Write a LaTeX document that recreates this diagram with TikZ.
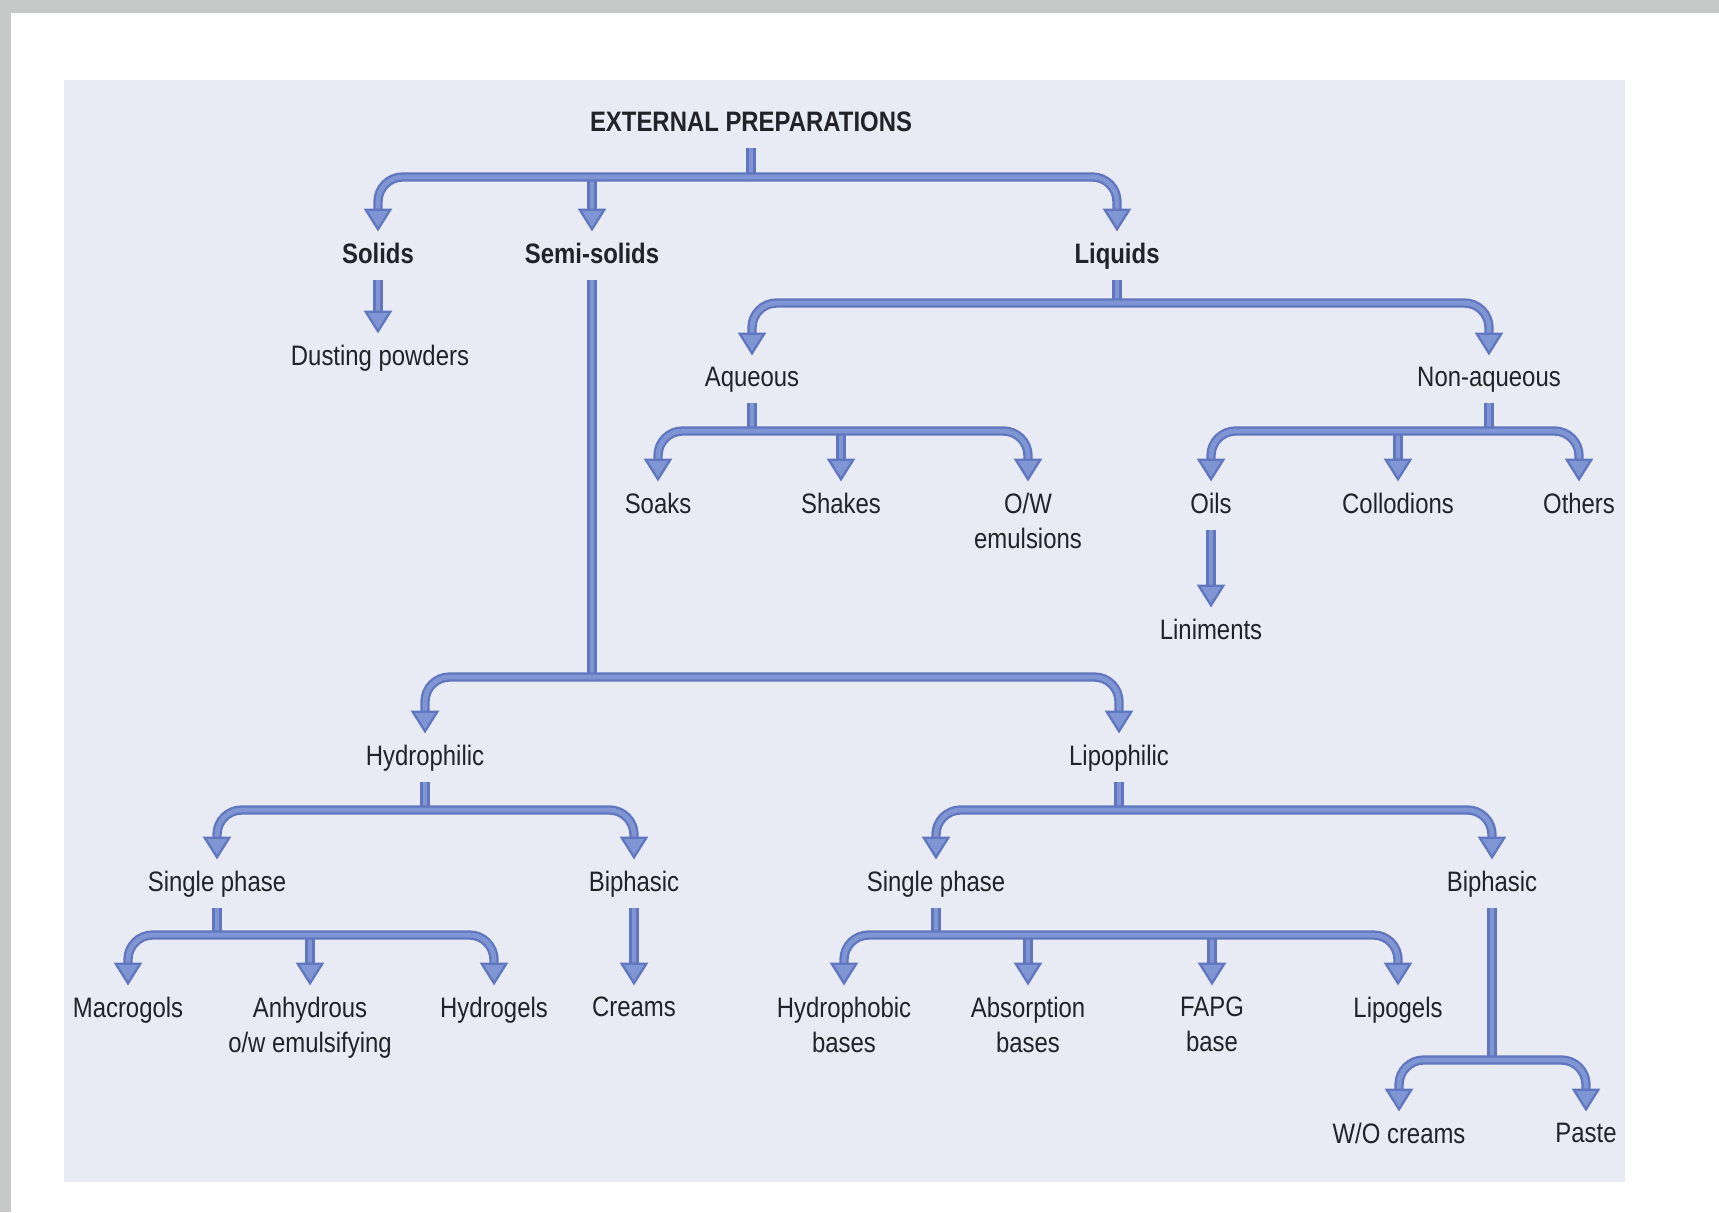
\documentclass[tikz,border=0pt]{standalone}
\usepackage{fontspec}
\setmainfont{Liberation Sans}[FakeStretch=0.85]
\usetikzlibrary{arrows.meta,positioning,calc}
\definecolor{panelbg}{RGB}{232,234,244}
\definecolor{framegray}{RGB}{199,201,200}
\definecolor{linkblue}{RGB}{128,150,212}
\definecolor{linkedge}{RGB}{96,118,190}
\definecolor{txtgray}{RGB}{34,34,40}

\begin{document}
\begin{tikzpicture}[x=0.01cm, y=-0.01cm,
    lbl/.style={font=\fontsize{8pt}{10pt}\selectfont, text=txtgray, inner sep=0pt, anchor=north, text depth=0.25em},
    twoline/.style={font=\fontsize{8pt}{10pt}\selectfont, text=txtgray, inner sep=0pt, anchor=north, align=center},
    head/.style={lbl, font=\fontsize{8pt}{10pt}\selectfont\bfseries},
    bar/.style={draw=linkedge, double=linkblue, line width=0.65pt, double distance=1.35pt, rounded corners=7pt},
    stem/.style={bar, shorten <=2pt},
    link/.style={bar, shorten >=3pt, -{Triangle[width=8pt, length=6.5pt, fill=linkblue]}}]

    % Page and panel
    \fill[white] (0,0) rectangle (1719,1212);
    \fill[framegray] (0,0) rectangle (1719,13);
    \fill[framegray] (0,0) rectangle (11,1212);
    \fill[panelbg] (64,80) rectangle (1625,1182);
    \useasboundingbox (0,0) rectangle (1719,1212);

    % Top level
    \node[head] (ext) at (751,111) {EXTERNAL PREPARATIONS};
    \node[head] (solids) at (378,242) {Solids};
    \node[head] (semi) at (592,242) {Semi-solids};
    \node[head] (liquids) at (1117,242) {Liquids};
    \node[lbl] (dust) at (380,344) {Dusting powders};

    % Liquids
    \node[lbl] (aq) at (752,366) {Aqueous};
    \node[lbl] (nonaq) at (1489,366) {Non-aqueous};
    \node[lbl] (soaks) at (658,492) {Soaks};
    \node[lbl] (shakes) at (841,492) {Shakes};
    \node[twoline] (ow) at (1028,492) {O/W\\emulsions};
    \node[lbl] (oils) at (1211,492) {Oils};
    \node[lbl] (coll) at (1398,492) {Collodions};
    \node[lbl] (others) at (1579,492) {Others};
    \node[lbl] (lin) at (1211,618) {Liniments};

    % Semi-solids
    \node[lbl] (hphil) at (425,744) {Hydrophilic};
    \node[lbl] (lphil) at (1119,744) {Lipophilic};
    \node[lbl] (single1) at (217,870) {Single phase};
    \node[lbl] (biph1) at (634,870) {Biphasic};
    \node[lbl] (single2) at (936,870) {Single phase};
    \node[lbl] (biph2) at (1492,870) {Biphasic};
    \node[lbl] (macro) at (128,996) {Macrogols};
    \node[twoline] (anhyd) at (310,996) {Anhydrous\\o/w emulsifying};
    \node[lbl] (hgel) at (494,996) {Hydrogels};
    \node[lbl] (creams) at (634,996) {Creams};
    \node[twoline] (hphob) at (844,996) {Hydrophobic\\bases};
    \node[twoline] (absorp) at (1028,996) {Absorption\\bases};
    \node[twoline] (fapg) at (1212,996) {FAPG\\base};
    \node[lbl] (lipog) at (1398,996) {Lipogels};
    \node[lbl] (wo) at (1399,1122) {W/O creams};
    \node[lbl] (paste) at (1586,1122) {Paste};

    % Junctions on the bars
    \coordinate (j0) at (ext.south |- 0,177);
    \coordinate (j1) at (semi.south |- 0,677);
    \coordinate (j2) at (liquids.south |- 0,303);
    \coordinate (j3) at (aq.south |- 0,431);
    \coordinate (j4) at (nonaq.south |- 0,431);
    \coordinate (j5) at (hphil.south |- 0,810);
    \coordinate (j6) at (lphil.south |- 0,810);
    \coordinate (j7) at (single1.south |- 0,935);
    \coordinate (j8) at (single2.south |- 0,935);
    \coordinate (j9) at (biph2.south |- 0,1060);

    % Stems
    \foreach \p/\j in {ext/j0,semi/j1,liquids/j2,aq/j3,nonaq/j4,hphil/j5,lphil/j6,single1/j7,single2/j8,biph2/j9}
        \draw[stem] (\p.south) -- (\j);

    % Straight arrows
    \draw[link, shorten <=2pt] (solids.south) -- (solids.south |- dust.north);
    \draw[link, shorten <=2pt] (oils.south) -- (lin.north);
    \draw[link, shorten <=2pt] (biph1.south) -- (creams.north);

    % Middle branches
    \draw[link] (j0 -| semi) -- (semi.north);
    \draw[link] (j3 -| shakes) -- (shakes.north);
    \draw[link] (j4 -| coll) -- (coll.north);
    \draw[link] (j7 -| anhyd) -- (anhyd.north);
    \foreach \c in {absorp,fapg}
        \draw[link] (j8 -| \c) -- (\c.north);

    % Outer branches
    \foreach \j/\a/\b in {j0/solids/liquids, j1/hphil/lphil, j2/aq/nonaq, j3/soaks/ow, j4/oils/others,
                          j5/single1/biph1, j6/single2/biph2, j7/macro/hgel, j8/hphob/lipog, j9/wo/paste} {
        \draw[link] (\j) -| (\a.north);
        \draw[link] (\j) -| (\b.north);
    }
\end{tikzpicture}
\end{document}
